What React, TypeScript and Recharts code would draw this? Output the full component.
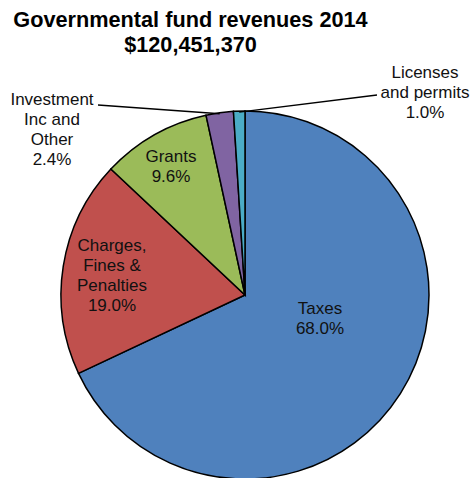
import React from 'react'
import { PieChart, Pie, Cell } from 'recharts'

const CATEGORIES = ['Taxes', 'Charges, Fines & Penalties', 'Grants', 'Investment Inc and Other', 'Licenses and permits']
const SHARES = [68.0, 19.0, 9.6, 2.4, 1.0]
const COLORS = ['#4F81BD', '#C0504D', '#9BBB59', '#8064A2', '#4BACC6']

// label text lines + where the block sits relative to the pie centre
const LABEL_LINES: string[][] = [
  ['Taxes'],
  ['Charges,', 'Fines &', 'Penalties'],
  ['Grants'],
  ['Investment', 'Inc and', 'Other'],
  ['Licenses', 'and permits'],
]
const LABEL_OFFSET: { dx: number; dy: number; leader?: { dx: number; dy: number } }[] = [
  { dx: 75, dy: 13 },
  { dx: -133, dy: -50 },
  { dx: -74, dy: -139 },
  { dx: -193, dy: -196, leader: { dx: -147, dy: -190 } },
  { dx: 180, dy: -223, leader: { dx: 132, dy: -200 } },
]

const data = CATEGORIES.map((name, i) => ({ name, value: SHARES[i] }))
const RAD = Math.PI / 180
const LINE_H = 20

function renderLabel(props: any) {
  const { cx, cy, midAngle, outerRadius, index, value } = props
  const pos = LABEL_OFFSET[index]
  const lines = [...LABEL_LINES[index], `${Number(value).toFixed(1)}%`]
  const x = cx + pos.dx
  const y0 = cy + pos.dy
  let leader = null
  if (pos.leader) {
    const ex = cx + outerRadius * Math.cos(-midAngle * RAD)
    const ey = cy + outerRadius * Math.sin(-midAngle * RAD)
    leader = <line x1={cx + pos.leader.dx} y1={cy + pos.leader.dy} x2={ex} y2={ey + 1} stroke="#000" strokeWidth={1.3} />
  }
  return (
    <g key={`lbl-${index}`}>
      {leader}
      <text x={x} y={y0} textAnchor="middle" fill="#111" fontSize={17} fontFamily="'Liberation Sans', Arial, sans-serif">
        {lines.map((t, i) => (
          <tspan key={i} x={x} y={y0 + i * LINE_H} dominantBaseline="central">{t}</tspan>
        ))}
      </text>
    </g>
  )
}

export default function App() {
  return (
    <div style={{ position: 'absolute', left: 0, top: 0, width: 472, height: 478, background: '#fff', overflow: 'hidden' }}>
      <div
        style={{
          position: 'absolute',
          left: 0,
          top: 7,
          width: 381,
          textAlign: 'center',
          fontFamily: "'Liberation Sans', Arial, sans-serif",
          fontWeight: 'bold',
          fontSize: 21.7,
          lineHeight: '25px',
          color: '#000',
        }}
      >
        <div>Governmental fund revenues 2014</div>
        <div>$120,451,370</div>
      </div>
      <PieChart width={472} height={478} margin={{ top: 0, right: 0, bottom: 0, left: 0 }} style={{ position: 'absolute', left: 0, top: 0 }}>
        <Pie
          data={data}
          dataKey="value"
          nameKey="name"
          cx={245}
          cy={295}
          outerRadius={184}
          startAngle={90}
          endAngle={-270}
          stroke="#000"
          strokeWidth={1.5}
          label={renderLabel}
          labelLine={false}
          isAnimationActive={false}
        >
          {data.map((d, i) => (
            <Cell key={d.name} fill={COLORS[i]} />
          ))}
        </Pie>
      </PieChart>
    </div>
  )
}
